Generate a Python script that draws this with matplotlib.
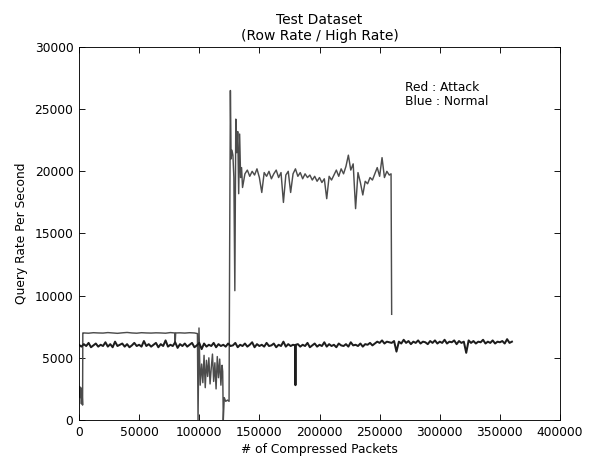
import matplotlib
matplotlib.use("Agg")
import matplotlib.pyplot as plt

title = "Test Dataset\n(Row Rate / High Rate)"

# attack series (drawn red originally, grey in the picture)
atk_x = ([0, 500, 1000, 1500, 2000, 2500, 3000, 3200]
         + [4000, 8000, 12000, 16000, 20000, 24000, 28000, 32000, 36000, 40000,
            44000, 48000, 52000, 56000, 60000, 64000, 68000, 72000, 76000, 79600,
            80000, 80400, 84000, 88000, 92000, 96000]
         + [98500, 99000, 99800, 100800]
         + [102000, 103000, 104000, 105000, 106000, 107000, 108000, 109000, 110000,
            111000, 112000, 113000, 114000, 115000, 116000, 117000, 118000, 119000]
         + [119500, 120000, 120800, 122000, 123500, 124800, 125300, 125900, 126500,
            127200, 128000, 128800, 129600, 130400, 131200, 132000, 132800, 133600,
            134400, 135200, 136000]
         + [138000, 140000, 142000, 144000, 146000, 148000, 150000, 152000, 154000,
            156000, 158000, 160000, 162000, 164000, 166000, 168000, 170000, 172000,
            174000, 176000, 178000, 180000, 182000, 184000, 186000, 188000, 190000,
            192000, 194000, 196000, 198000, 200000, 202000, 204000, 206000, 208000,
            210000, 212000, 214000, 216000, 218000, 220000, 222000, 224000, 226000,
            228000, 230000, 232000, 234000, 236000, 238000, 240000, 242000, 244000,
            246000, 248000, 250000, 252000, 254000, 256000, 258000]
         + [259500, 260000])
atk_y = ([2000, 2700, 1800, 2600, 1300, 2500, 1200, 7000]
         + [7000, 6980, 7020, 7000, 6990, 7030, 7000, 6970, 7010, 7040,
            7000, 6980, 7020, 7000, 6990, 7010, 7000, 6980, 7030, 7000,
            6200, 7000, 7010, 6990, 7020, 7000]
         + [6950, 0, 7400, 2800]
         + [4500, 3000, 5200, 2600, 4800, 3500, 5000, 2900, 4200,
            5300, 3100, 4600, 2500, 5100, 3400, 4900, 2800, 4400]
         + [3900, 0, 1800, 1500, 1600, 1500, 14000, 26500, 21000,
            21700, 21300, 19500, 10400, 24200, 21500, 23200, 18200, 23000,
            19500, 20300, 18700]
         + [19800, 20100, 19600, 20000, 19700, 20200, 19500, 18300, 19900,
            19600, 20000, 19400, 19800, 20100, 19500, 19900, 17500, 19700,
            20000, 18300, 19800, 20200, 19600, 19900, 19400, 19800, 19500,
            19700, 19300, 19600, 19200, 19500, 19100, 19400, 17800, 19600,
            19300, 19700, 20100, 19600, 20200, 19800, 20400, 21300, 20100,
            20600, 17000, 19900, 19100, 18100, 19200, 19000, 19500, 19300,
            19800, 20300, 19600, 21100, 19500, 20000, 19700]
         + [19800, 8500])

# normal series (drawn blue originally, near black in the picture)
nrm_x = (list(range(0, 180000, 2000)) + [179700, 180000, 180300]
         + list(range(182000, 362000, 2000)))
nrm_y = [6050, 5900, 6100, 5950, 6200, 5850, 6000, 6150, 5900, 6050,
         5950, 6250, 5900, 6100, 5850, 6300, 5950, 6050, 6150, 5900,
         6100, 5850, 6000, 6200, 5950, 6050, 5900, 6350, 5950, 6100,
         5900, 6050, 6200, 5850, 6100, 5950, 6400, 5900, 6050, 5950,
         6250, 5800, 6100, 5950, 6150, 5900, 6050, 6200, 5850, 6000,
         6200, 5700, 6150, 5900, 6050, 5950, 6200, 5850, 6100, 5950,
         6050, 5900, 6150, 5950, 6000, 6200, 5850, 6050, 5950, 6150,
         5900, 6050, 6250, 5850, 6100, 5950, 6050, 5900, 6200, 5950,
         6000, 6150, 5850, 6050, 5950, 6300, 5900, 6100, 5950, 6050,
         6000, 2800, 6050,
         6100, 5900, 6050, 5950, 6200, 5850, 6000, 6150, 5900,
         6050, 5950, 6250, 5900, 6100, 5950, 6050, 5850, 6150, 6000,
         5950, 6100, 5900, 6250, 6000, 6050, 5950, 6150, 5900, 6100,
         6050, 6200, 6000, 6150, 6300, 6200, 6400, 6150, 6300, 6250,
         6200, 6350, 5500, 6300, 6150, 6450, 6200, 6350, 6100, 6300,
         6200, 6400, 6150, 6300, 6250, 6100, 6350, 6200, 6400, 6150,
         6300, 6200, 6450, 6150, 6300, 6250, 6400, 6100, 6350, 6200,
         6300, 5400, 6400, 6200, 6350, 6150, 6300, 6250, 6450, 6150,
         6300, 6200, 6400, 6150, 6300, 6250, 6350, 6150, 6500, 6200,
         6300]

fig = plt.figure(figsize=(7.4, 5.7375), dpi=80)
ax = fig.add_axes([0.1334, 0.085, 0.8126, 0.8126])

ax.plot(atk_x, atk_y, color='#4c4c4c', lw=1.3)
ax.plot(nrm_x, nrm_y, color='#1d1d1d', lw=1.8)

ax.set_xlim(0, 400000)
ax.set_ylim(0, 30000)
ax.set_xticks(range(0, 400001, 50000))
ax.set_yticks(range(0, 30001, 5000))
ax.tick_params(direction='in', top=True, right=True, length=5, labelsize=11, pad=5)
ax.set_title(title, fontsize=12.5)
ax.set_xlabel("# of Compressed Packets", fontsize=11)
ax.set_ylabel("Query Rate Per Second", fontsize=11, labelpad=6)
ax.text(271000, 27300, "Red : Attack\nBlue : Normal", fontsize=11, va='top', linespacing=1.1)

plt.savefig('out.png', dpi=80)
